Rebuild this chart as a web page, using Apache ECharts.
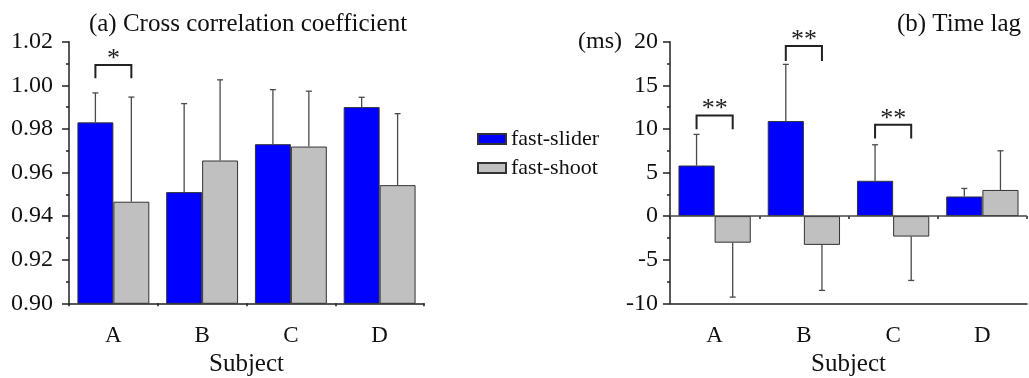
<!DOCTYPE html>
<html><head><meta charset="utf-8">
<script src="https://cdn.jsdelivr.net/npm/echarts@6/dist/echarts.min.js"></script>
<style>html,body{margin:0;padding:0;background:#fff}#c{width:1029px;height:378px}</style>
</head><body><div id="c"></div>
<script>
var categories = ['A','B','C','D'];
var seriesNames = ['fast-slider','fast-shoot'];
// (a) Cross correlation coefficient
var corrSlider = [0.983, 0.951, 0.973, 0.990];
var corrSliderSD = [0.0135, 0.0406, 0.025, 0.0045];
var corrShoot = [0.9466, 0.9655, 0.9719, 0.9542];
var corrShootSD = [0.048, 0.037, 0.0254, 0.0328];
// (b) Time lag (ms)
var lagSlider = [5.8, 10.9, 4.05, 2.25];
var lagSliderSD = [3.57, 6.5, 4.13, 0.92];
var lagShoot = [-3.05, -3.3, -2.35, 3.0];
var lagShootSD = [6.24, 5.22, 5.03, 4.49];
// significance brackets: category index, bracket level, leg bottom, mark
var corrSigCat = [0];
var corrSigTop = [1.0093];
var corrSigLeg = [1.0032];
var corrSigMark = ['*'];
var lagSigCat = [0, 1, 2];
var lagSigTop = [11.55, 19.5, 10.47];
var lagSigLeg = [9.95, 17.8, 8.9];
var lagSigMark = ['**', '**', '**'];

var FONT = "'Liberation Serif','Times New Roman',serif";
var BLUE = '#0000ff', GRAY = '#c0c0c0', EDGE = '#333333', AX = '#222222';
var GAPFRAC = 0.81; // 1 - barCategoryGap

function errData(vals, sds, side){
  return vals.map(function(v,i){ return [i, v, sds[i], side]; });
}
function renderErr(params, api){
  var i = api.value(0), v = api.value(1), sd = api.value(2), side = api.value(3);
  var band = api.size([1,0])[0];
  var off = side * band * GAPFRAC / 4;
  var p0 = api.coord([i, v]);
  var end = v >= 0 ? v + sd : v - sd;
  var p1 = api.coord([i, end]);
  var x = p0[0] + off, cap = 3;
  return {type:'group', children:[
    {type:'line', shape:{x1:x,y1:p0[1],x2:x,y2:p1[1]}, style:{stroke:'#4a4a4a',lineWidth:1.3}},
    {type:'line', shape:{x1:x-cap,y1:p1[1],x2:x+cap,y2:p1[1]}, style:{stroke:'#4a4a4a',lineWidth:1.3}}
  ]};
}
function sigData(cats, tops, legs){
  return cats.map(function(c,i){ return [c, tops[i], legs[i]]; });
}
function makeSigRender(marks){
  return function(params, api){
    var i = api.value(0), top = api.value(1), leg = api.value(2);
    var band = api.size([1,0])[0];
    var off = band * GAPFRAC / 4;
    var pt = api.coord([i, top]), pl = api.coord([i, leg]);
    var xl = pt[0] - off, xr = pt[0] + off;
    return {type:'group', children:[
      {type:'polyline', shape:{points:[[xl,pl[1]],[xl,pt[1]],[xr,pt[1]],[xr,pl[1]]]}, style:{stroke:'#222',lineWidth:2,fill:null}},
      {type:'text', x:pt[0], y:pt[1]+7, style:{text:marks[params.dataIndex], font:'26px '+FONT, fill:'#222', align:'center', verticalAlign:'bottom'}}
    ]};
  };
}
function xAxisCfg(gi){
  return [{
    gridIndex:gi, type:'category', data:categories,
    name:'Subject', nameLocation:'middle', nameGap:46,
    nameTextStyle:{fontFamily:FONT, fontSize:25, color:'#111'},
    axisLine:{onZero:false, lineStyle:{color:AX, width:1.5}},
    axisTick:{alignWithLabel:true, length:6, lineStyle:{color:AX, width:1.5}},
    axisLabel:{margin:21, fontFamily:FONT, fontSize:23, color:'#111'},
    splitLine:{show:false}
  },{
    gridIndex:gi, type:'category', data:categories, position:'bottom',
    axisLine:{show:false},
    axisTick:{show:true, length:3, lineStyle:{color:AX, width:1.5}},
    axisLabel:{show:false}, splitLine:{show:false}
  }];
}
var option = {
  animation:false,
  backgroundColor:'#fff',
  title:[
    {text:'(a) Cross correlation coefficient', left:243, textAlign:'center', top:7,
     textStyle:{fontFamily:FONT, fontSize:25, fontWeight:'normal', color:'#111'}},
    {text:'(b) Time lag', right:3, top:7,
     textStyle:{fontFamily:FONT, fontSize:25, fontWeight:'normal', color:'#111'}}
  ],
  legend:{
    data:seriesNames, orient:'vertical', left:472, top:123,
    itemWidth:28, itemHeight:10, itemGap:7,
    textStyle:{fontFamily:FONT, fontSize:22, color:'#111', lineHeight:22},
    icon:'rect'
  },
  grid:[
    {left:69, top:41.7, width:355, height:261.6, containLabel:false, outerBoundsMode:'none'},
    {left:670, top:41.7, width:357, height:261.6, containLabel:false, outerBoundsMode:'none'}
  ],
  xAxis: xAxisCfg(0).concat(xAxisCfg(1)),
  yAxis:[
    {gridIndex:0, type:'value', min:0.90, max:1.02, interval:0.02,
     axisLine:{show:true, lineStyle:{color:AX, width:1.5}},
     axisTick:{show:true, length:7, lineStyle:{color:AX, width:1.5}},
     minorTick:{show:true, splitNumber:2, length:3, lineStyle:{color:AX, width:1.5}},
     axisLabel:{margin:16, fontFamily:FONT, fontSize:24, color:'#111', formatter:function(v){return v.toFixed(2);}},
     splitLine:{show:false}},
    {gridIndex:1, type:'value', min:-10, max:20, interval:5,
     name:'(ms)', nameLocation:'end', nameGap:0,
     nameTextStyle:{fontFamily:FONT, fontSize:24, color:'#111', align:'right', verticalAlign:'middle', padding:[0,48,0,0]},
     axisLine:{show:true, lineStyle:{color:AX, width:1.5}},
     axisTick:{show:true, length:7, lineStyle:{color:AX, width:1.5}},
     minorTick:{show:true, splitNumber:2, length:3, lineStyle:{color:AX, width:1.5}},
     axisLabel:{margin:12, fontFamily:FONT, fontSize:24, color:'#111'},
     splitLine:{show:false}}
  ],
  series:[
    {name:'fast-slider', type:'bar', xAxisIndex:0, yAxisIndex:0, data:corrSlider, barGap:'0%', barCategoryGap:'19%',
     itemStyle:{color:BLUE, borderColor:EDGE, borderWidth:1}},
    {name:'fast-shoot', type:'bar', xAxisIndex:0, yAxisIndex:0, data:corrShoot, barGap:'0%', barCategoryGap:'19%',
     itemStyle:{color:GRAY, borderColor:EDGE, borderWidth:1}},
    {name:'fast-slider', type:'bar', xAxisIndex:2, yAxisIndex:1, data:lagSlider, barGap:'0%', barCategoryGap:'19%',
     itemStyle:{color:BLUE, borderColor:EDGE, borderWidth:1},
     markLine:{silent:true, symbol:'none', label:{show:false}, data:[{yAxis:0}], lineStyle:{color:'#444', type:'solid', width:1.5}}},
    {name:'fast-shoot', type:'bar', xAxisIndex:2, yAxisIndex:1, data:lagShoot, barGap:'0%', barCategoryGap:'19%',
     itemStyle:{color:GRAY, borderColor:EDGE, borderWidth:1}},
    {type:'custom', xAxisIndex:0, yAxisIndex:0, data:errData(corrSlider, corrSliderSD, -1), renderItem:renderErr, z:3},
    {type:'custom', xAxisIndex:0, yAxisIndex:0, data:errData(corrShoot, corrShootSD, 1), renderItem:renderErr, z:3},
    {type:'custom', xAxisIndex:2, yAxisIndex:1, data:errData(lagSlider, lagSliderSD, -1), renderItem:renderErr, z:3},
    {type:'custom', xAxisIndex:2, yAxisIndex:1, data:errData(lagShoot, lagShootSD, 1), renderItem:renderErr, z:3},
    {type:'custom', xAxisIndex:0, yAxisIndex:0, data:sigData(corrSigCat, corrSigTop, corrSigLeg), renderItem:makeSigRender(corrSigMark), z:4},
    {type:'custom', xAxisIndex:2, yAxisIndex:1, data:sigData(lagSigCat, lagSigTop, lagSigLeg), renderItem:makeSigRender(lagSigMark), z:4}
  ]
};
var chart = echarts.init(document.getElementById('c'), null, {renderer:'canvas'});
chart.setOption(option);
</script>
</body></html>
